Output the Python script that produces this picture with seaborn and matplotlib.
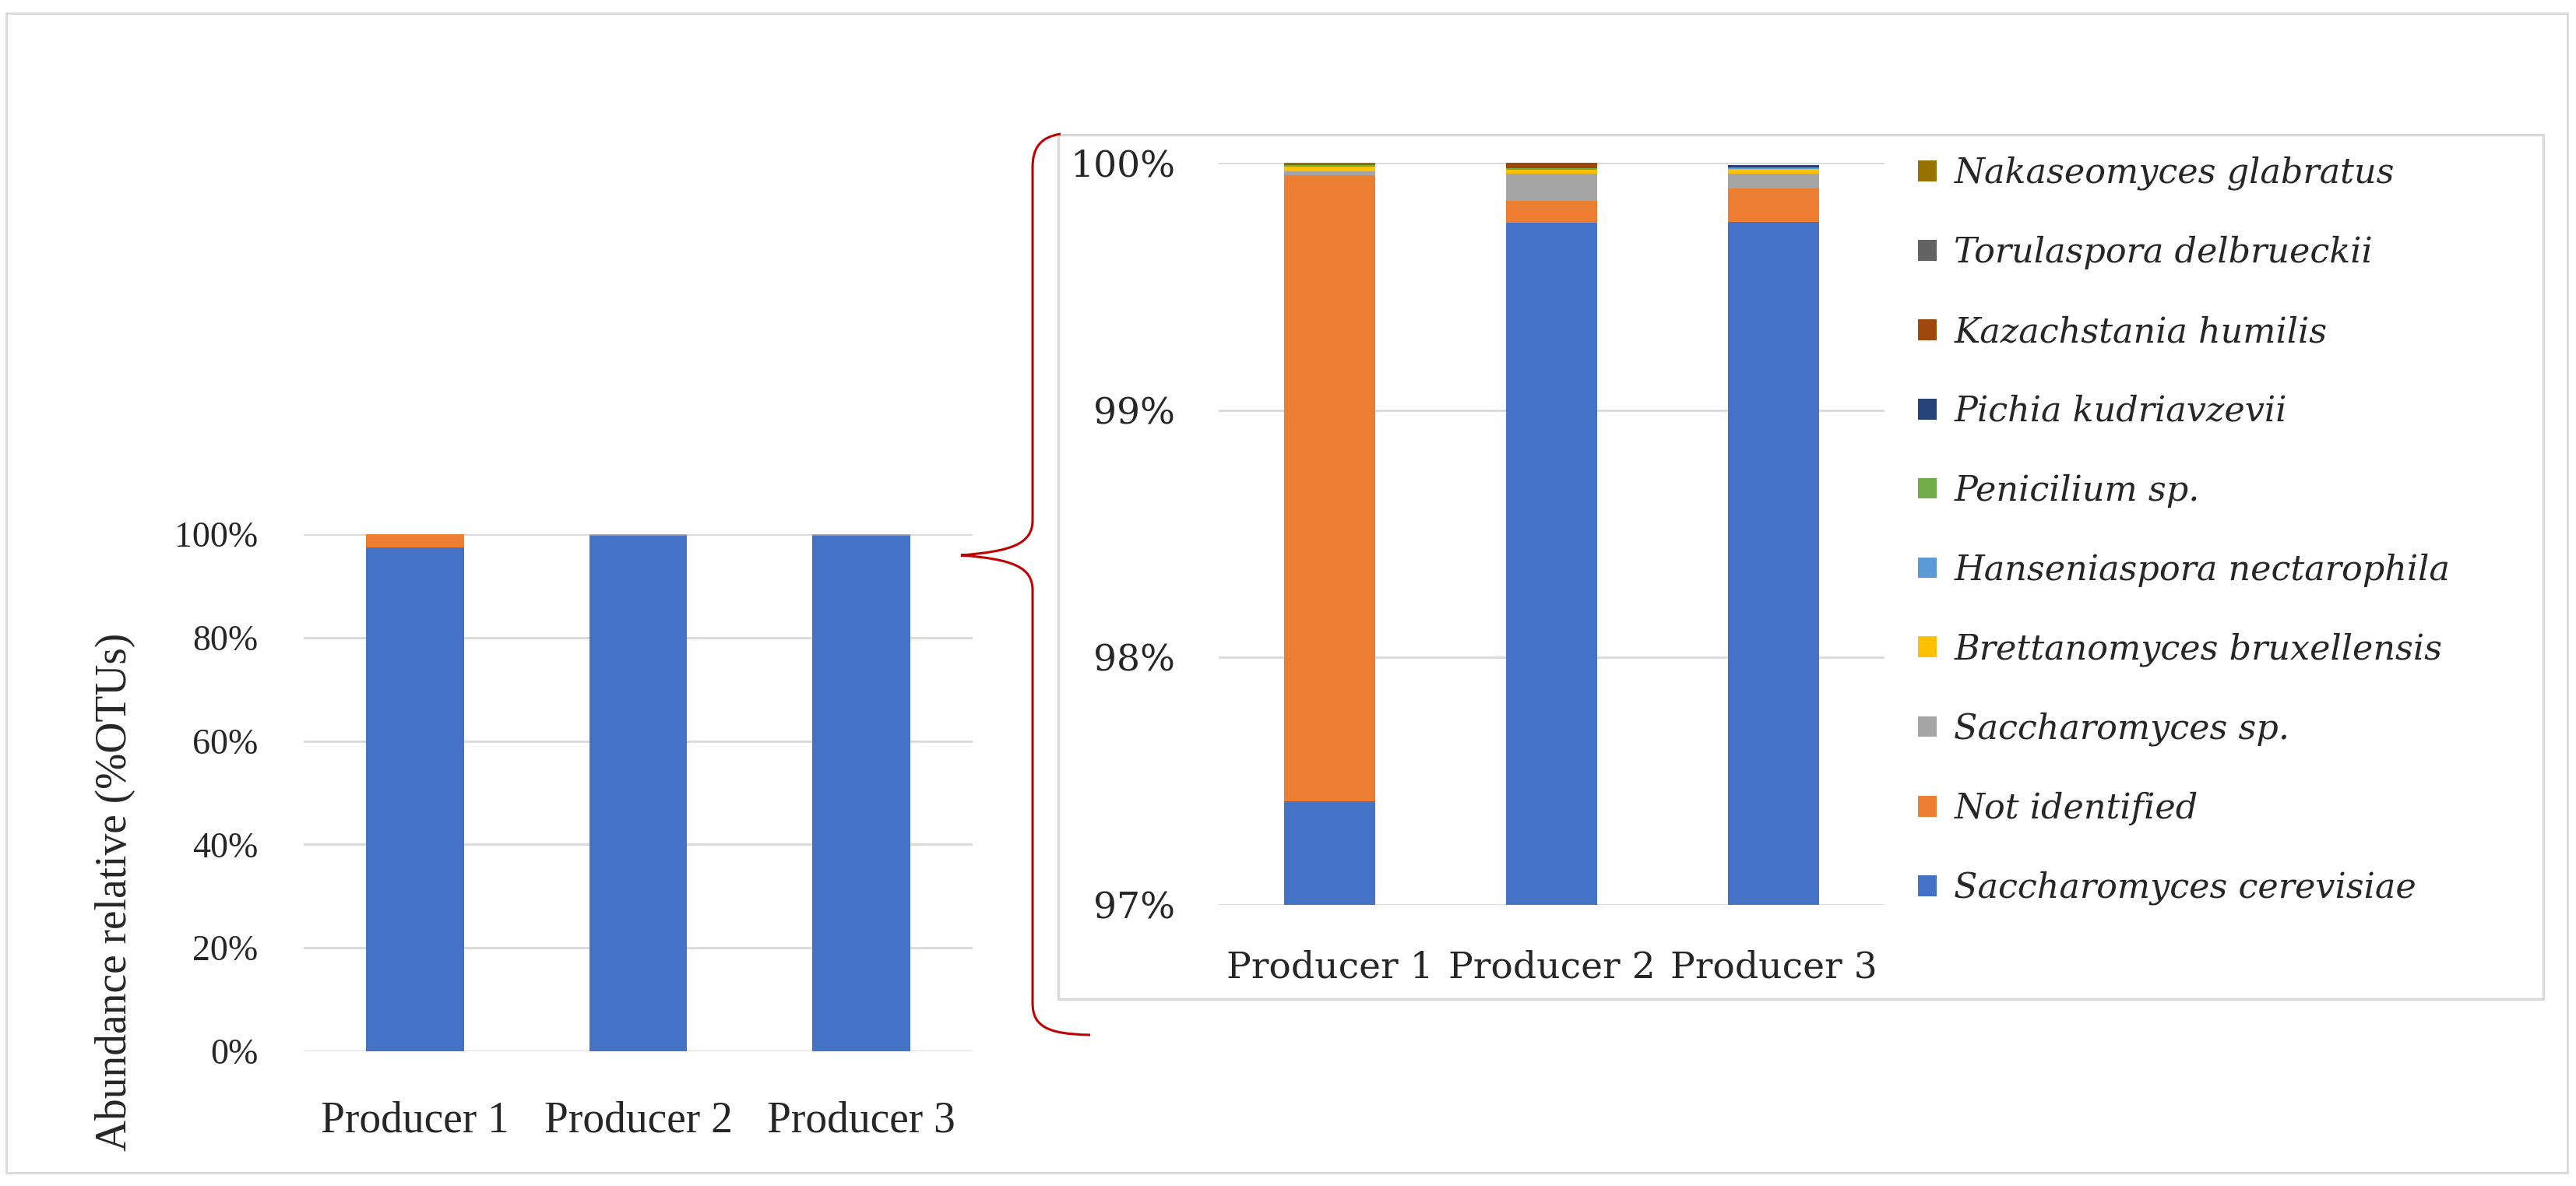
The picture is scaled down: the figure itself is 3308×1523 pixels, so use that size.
import numpy as np
import pandas as pd
import matplotlib
matplotlib.use("Agg")
import matplotlib.pyplot as plt
from matplotlib.patches import Patch, Rectangle, PathPatch
from matplotlib.path import Path
from matplotlib.ticker import FuncFormatter
import seaborn as sns

# data (% of OTUs)
producers = ["Producer 1", "Producer 2", "Producer 3"]
cerevisiae = [97.42, 99.758, 99.761]
not_identified = [2.53, 0.089, 0.136]
saccharomyces_sp = [0.016, 0.108, 0.058]
brettanomyces = [0.019, 0.018, 0.02]
hanseniaspora = [0.0, 0.0, 0.006]
penicilium = [0.006, 0.005, 0.0]
pichia = [0.0, 0.0, 0.008]
kazachstania = [0.0, 0.022, 0.0]
torulaspora = [0.004, 0.0, 0.0]
nakaseomyces = [0.005, 0.0, 0.0]

species = ["Saccharomyces cerevisiae", "Not identified", "Saccharomyces sp.",
           "Brettanomyces bruxellensis", "Hanseniaspora nectarophila", "Penicilium sp.",
           "Pichia kudriavzevii", "Kazachstania humilis", "Torulaspora delbrueckii",
           "Nakaseomyces glabratus"]
colors = ["#4472C4", "#ED7D31", "#A5A5A5", "#FFC000", "#5B9BD5",
          "#70AD47", "#264478", "#9E480E", "#636363", "#997300"]

layers = [cerevisiae, not_identified, saccharomyces_sp, brettanomyces, hanseniaspora,
          penicilium, pichia, kazachstania, torulaspora, nakaseomyces]
df = pd.DataFrame(dict(zip(species, layers)), index=producers)
cum = df.cumsum(axis=1)

sns.set_style("white")
plt.rcParams["font.family"] = ["DejaVu Serif"]

W, H = 3308, 1523
fig = plt.figure(figsize=(W / 100, H / 100), dpi=100)
grid_col = "#d9d9d9"


def fx(x):
    return x / W


def fy(y):
    return 1 - y / H


def stacked(ax, width):
    # draw cumulative totals from the top layer down so the stack shows through
    for sp, col in zip(species[::-1], colors[::-1]):
        sns.barplot(x=producers, y=cum[sp].values, color=col, saturation=1,
                    width=width, linewidth=0, ax=ax)
    ax.set_axisbelow(True)
    ax.yaxis.grid(True, color=grid_col, linewidth=2)
    ax.xaxis.grid(False)
    for s in ax.spines.values():
        s.set_visible(False)
    ax.yaxis.set_major_formatter(FuncFormatter(lambda v, p: f"{v:.0f}%"))


# left: full scale
ax1 = fig.add_axes([fx(390), fy(1350), fx(1249) - fx(390), fy(686) - fy(1350)])
stacked(ax1, 0.44)
ax1.set_ylim(0, 100)
ax1.set_yticks(range(0, 101, 20))
ax1.tick_params(axis="y", length=0, pad=42)
ax1.tick_params(axis="x", length=0, pad=46)
for lab in ax1.get_yticklabels():
    lab.set_fontfamily("Liberation Serif")
    lab.set_fontsize(33)
for lab in ax1.get_xticklabels():
    lab.set_fontfamily("Liberation Serif")
    lab.set_fontsize(40)

fig.text(fx(148), fy(1145), "Abundance relative (%OTUs)", rotation=90,
         ha="center", va="center", fontsize=40, family="Liberation Serif")

# right: zoom on 97-100 %
ax2 = fig.add_axes([fx(1565), fy(1162), fx(2420) - fx(1565), fy(209) - fy(1162)])
stacked(ax2, 0.41)
ax2.set_ylim(97, 100)
ax2.set_yticks([97, 98, 99, 100])
ax2.tick_params(axis="y", length=0, pad=40, labelsize=34)
ax2.tick_params(axis="x", length=0, pad=42, labelsize=34)

handles = [Patch(facecolor=c, edgecolor="none") for c in colors[::-1]]
fig.legend(handles, species[::-1], loc="upper left",
           bbox_to_anchor=(fx(2445), fy(183)), frameon=False,
           prop={"family": "DejaVu Serif", "style": "italic", "size": 32},
           handlelength=0.55, handleheight=0.55, handletextpad=0.5,
           labelspacing=1.32, borderaxespad=0)

# frames
fig.add_artist(Rectangle((fx(1359), fy(1283)), fx(3266) - fx(1359), fy(173) - fy(1283),
                         transform=fig.transFigure, fill=False,
                         edgecolor=grid_col, linewidth=2.5))
fig.add_artist(Rectangle((fx(8), fy(1506)), fx(3297) - fx(8), fy(17) - fy(1506),
                         transform=fig.transFigure, fill=False,
                         edgecolor=grid_col, linewidth=2))

# red brace linking the two panels
pts = [(1362, 172), (1336, 176), (1326, 190), (1326, 215),
       (1326, 668),
       (1326, 698), (1300, 708), (1234, 713),
       (1300, 718), (1326, 728), (1326, 758),
       (1326, 1288),
       (1326, 1318), (1345, 1328), (1400, 1329)]
codes = [Path.MOVETO, Path.CURVE4, Path.CURVE4, Path.CURVE4,
         Path.LINETO,
         Path.CURVE4, Path.CURVE4, Path.CURVE4,
         Path.CURVE4, Path.CURVE4, Path.CURVE4,
         Path.LINETO,
         Path.CURVE4, Path.CURVE4, Path.CURVE4]
brace = Path([(fx(x), fy(y)) for x, y in pts], codes)
fig.add_artist(PathPatch(brace, transform=fig.transFigure, fill=False,
                         edgecolor="#C00000", linewidth=2.2))

fig.savefig("out.png", dpi=100, facecolor="white")
